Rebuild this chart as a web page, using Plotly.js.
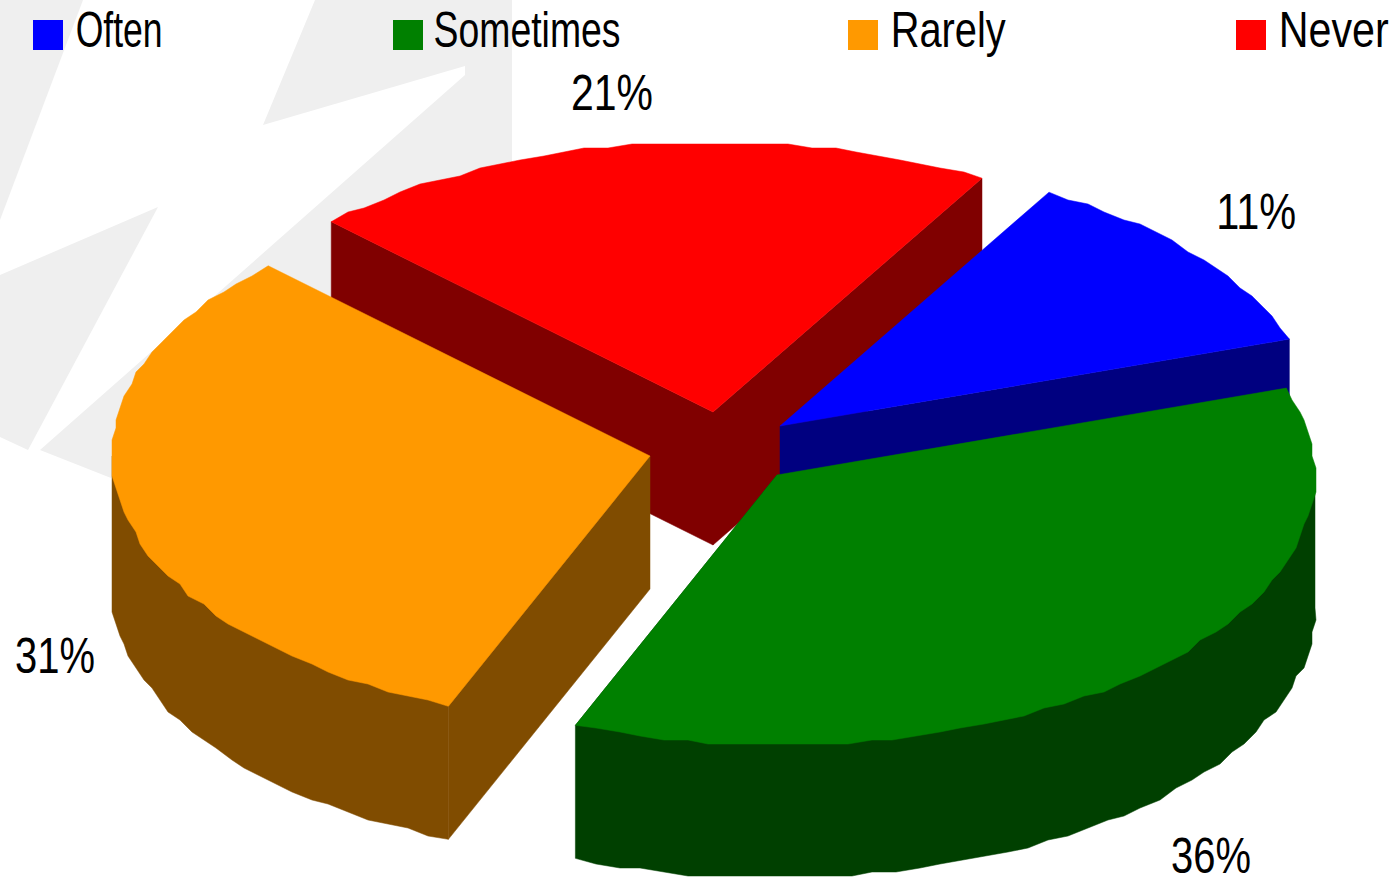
<!DOCTYPE html>
<html>
<head>
<meta charset="utf-8">
<title>Frequency pie</title>
<script src="https://cdn.plot.ly/plotly-3.0.1.min.js"></script>
<style>html,body{margin:0;padding:0;background:#fff;overflow:hidden}#chart{width:1395px;height:877px}</style>
</head>
<body>
<div id="chart"></div>
<script>
// ---- data ----
const categories = ['Often', 'Sometimes', 'Rarely', 'Never'];
const shares = [11.45, 36.33, 31.33, 20.89];

// ---- styles and layout, kept apart from the data ----
const topColors = ['#0000ff', '#008000', '#ff9900', '#ff0000'];
const wallColors = ['#000080', '#004000', '#804c00', '#800000'];
const sliceCentres = [[780, 426], [777, 475], [650, 456], [713, 412]];
const drawOrder = [3, 0, 2, 1];
const labelSpots = [[1256, 212], [1211, 856], [55, 656], [612, 93]];
const labelWidths = [80, 80, 80, 82];
const legendSwatchX = [33, 393, 848, 1236];
const legendTextCentre = [118.5, 526.5, 947.5, 1333];
const legendTextWidth = [87, 187, 115, 110];
const RX = 538, RY = 270, DEPTH = 133, START = 60, SNAP = 4;
const FONT = '"Liberation Sans", Arial, sans-serif';
const FONT_SIZE = 50;

const total = shares.reduce((a, b) => a + b, 0);
let cursor = START;
const spans = shares.map(v => {
  const from = cursor;
  cursor -= v / total * 360;
  return [from, cursor];
});

function edgePoint(c, deg, dy) {
  const a = deg * Math.PI / 180;
  return [c[0] + RX * Math.cos(a), c[1] - RY * Math.sin(a) + (dy || 0)];
}
function arc(c, from, to, dy) {
  const pts = [];
  const n = Math.max(2, Math.ceil(Math.abs(to - from) / 2.5));
  for (let i = 0; i <= n; i++) {
    const p = edgePoint(c, from + (to - from) * i / n, dy);
    if (i > 0 && i < n) { p[0] = Math.round(p[0] / SNAP) * SNAP; p[1] = Math.round(p[1] / SNAP) * SNAP; }
    pts.push(p);
  }
  return pts;
}
function poly(pts, color, name) {
  const closed = pts.concat([pts[0]]);
  return {
    type: 'scatter', mode: 'lines', fill: 'toself', fillcolor: color, name: name,
    x: closed.map(p => p[0]), y: closed.map(p => p[1]),
    line: {width: 0.5, color: color}, hoverinfo: 'name', showlegend: false
  };
}
function cutWall(c, deg) {
  const e = edgePoint(c, deg);
  return [c, e, [e[0], e[1] + DEPTH], [c[0], c[1] + DEPTH]];
}

const traces = [];
drawOrder.forEach(i => {
  const c = sliceCentres[i], [from, to] = spans[i], name = categories[i], wall = wallColors[i];
  // cut faces turned towards the viewer
  if (i === 3) { traces.push(poly(cutWall(c, from), wall, name + ' wall')); traces.push(poly(cutWall(c, to + 360), wall, name + ' wall')); }
  if (i === 0) { traces.push(poly(cutWall(c, to), wall, name + ' wall')); }
  if (i === 2) { traces.push(poly(cutWall(c, from), wall, name + ' wall')); }
  // rounded outer wall (front half of the ellipse); its top runs under the top face
  if (i === 1 || i === 2) {
    const a = Math.min(from, 0), b = Math.max(to, -180);
    traces.push(poly([c, edgePoint(c, a)].concat(arc(c, a, b, DEPTH), [edgePoint(c, b)]), wall, name + ' wall'));
  }
  // top face
  traces.push(poly([c].concat(arc(c, from, to, 0)), topColors[i], name));
});

const annotations = [];
const textWidths = [];
const shapes = [{
  type: 'path', layer: 'below', line: {width: 0}, fillcolor: '#efefef',
  path: 'M0,0 L83,0 L0,220 Z'
}, {
  type: 'path', layer: 'below', line: {width: 0}, fillcolor: '#efefef',
  path: 'M0,275 L158,207 L28,450 L0,437 Z'
}, {
  type: 'path', layer: 'below', line: {width: 0}, fillcolor: '#efefef',
  path: 'M315,0 L512,0 L512,300 L111,478 L40,450 L465,75 L465,66 L263,125 Z'
}];
categories.forEach((name, i) => {
  shapes.push({type: 'rect', layer: 'above', line: {width: 0}, fillcolor: topColors[i],
    x0: legendSwatchX[i], x1: legendSwatchX[i] + 30, y0: 20, y1: 50});
  annotations.push({x: legendTextCentre[i], y: 30, text: name, showarrow: false, xanchor: 'center', yanchor: 'middle',
    xref: 'x', yref: 'y', font: {family: FONT, size: FONT_SIZE, color: '#000'}});
  textWidths.push(legendTextWidth[i]);
  annotations.push({x: labelSpots[i][0], y: labelSpots[i][1], text: Math.round(shares[i]) + '%', showarrow: false,
    xanchor: 'center', yanchor: 'middle', xref: 'x', yref: 'y',
    font: {family: FONT, size: FONT_SIZE, color: '#000'}});
  textWidths.push(labelWidths[i]);
});

Plotly.newPlot('chart', traces, {
  width: 1395, height: 877, margin: {l: 0, r: 0, t: 0, b: 0, pad: 0},
  paper_bgcolor: '#ffffff', plot_bgcolor: 'rgba(0,0,0,0)', showlegend: false,
  xaxis: {range: [0, 1395], visible: false, fixedrange: true},
  yaxis: {range: [877, 0], visible: false, fixedrange: true},
  shapes: shapes, annotations: annotations
}, {displayModeBar: false, staticPlot: true}).then(gd => {
  // the reference's lettering is condensed: narrow each real text to its measured width
  gd.querySelectorAll('.annotation').forEach(node => {
    const i = +node.getAttribute('data-index');
    const t = node.querySelector('text.annotation-text');
    if (!t) return;
    const cx = parseFloat(t.getAttribute('x')) || 0;
    const sx = textWidths[i] / t.getComputedTextLength();
    t.setAttribute('transform', 'translate(' + cx + ',0) scale(' + sx + ',1) translate(' + (-cx) + ',0)');
  });
});
</script>
</body>
</html>
